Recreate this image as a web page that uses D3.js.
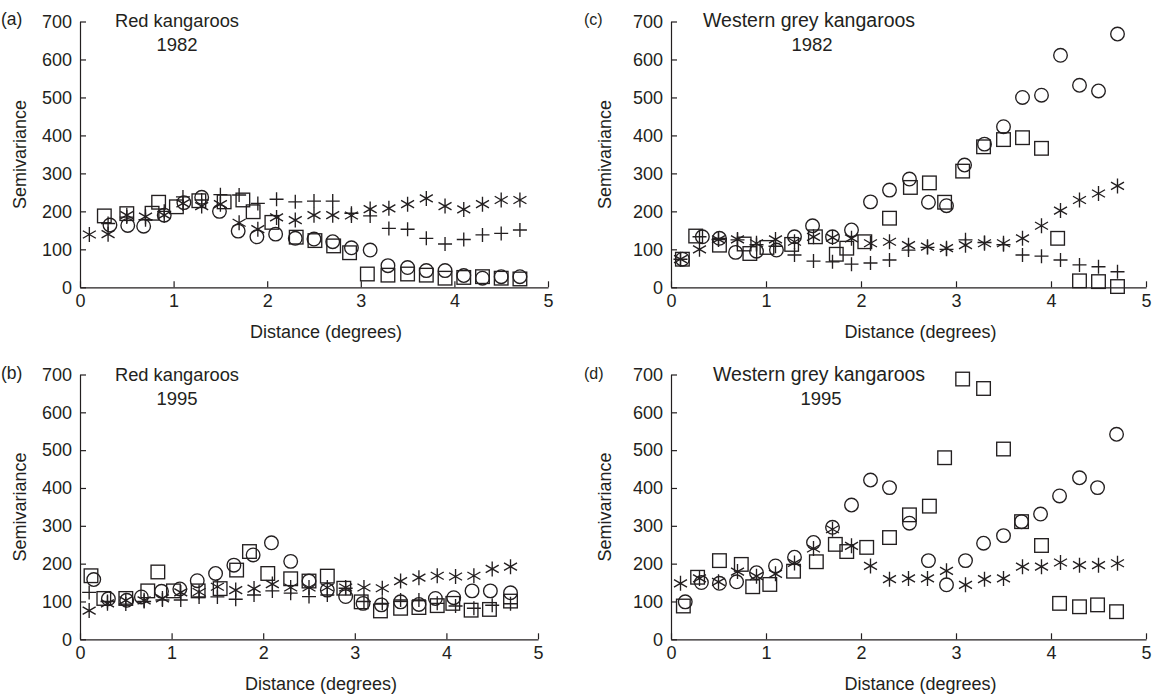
<!DOCTYPE html>
<html><head><meta charset="utf-8">
<script src="https://cdn.jsdelivr.net/npm/d3@7"></script>
<style>
html,body{margin:0;padding:0;background:#fff;}
svg{display:block;font-family:"Liberation Sans",Arial,sans-serif;}
</style></head>
<body><svg id="c" width="1164" height="698"></svg>
<script>
// ---------- data ----------
const lags = [0.1,0.3,0.5,0.7,0.9,1.1,1.3,1.5,1.7,1.9,2.1,2.3,2.5,2.7,2.9,3.1,3.3,3.5,3.7,3.9,4.1,4.3,4.5,4.7];
const xTicks = [0,1,2,3,4,5];
const yTicks = [0,100,200,300,400,500,600,700];

// (a) Red kangaroos 1982
const circleDistA = [0.32,0.51,0.68,0.9,1.11,1.3,1.49,1.69,1.89,2.09,2.3,2.5,2.7,2.9,3.1,3.29,3.5,3.7,3.9,4.1,4.3,4.5,4.7];
const circleA = [164,163,161,190,223,237,200,148,133,140,129,127,120,104,98,57,52,44,44,31,24,28,28];
const squareDistA = [0.26,0.5,0.77,0.84,1.03,1.27,1.54,1.74,1.85,2.05,2.31,2.51,2.71,2.88,3.07,3.29,3.5,3.7,3.9,4.1,4.3,4.5,4.7];
const squareA = [188,194,195,224,212,228,225,230,199,171,132,123,109,91,35,32,35,32,24,26,28,24,22];
const asteriskA = [139,140,190,186,190,221,214,219,170,153,184,177,190,190,189,206,208,219,234,214,205,219,230,230];
const plusA = [null,168,185,178,200,238,230,244,243,221,232,225,227,227,195,188,155,153,129,114,126,138,142,151];

// (b) Red kangaroos 1995
const circleDistB = [0.15,0.31,0.51,0.67,0.89,1.09,1.28,1.48,1.68,1.89,2.09,2.3,2.5,2.7,2.9,3.09,3.29,3.5,3.7,3.88,4.08,4.28,4.48,4.7];
const circleB = [158,107,103,112,127,133,155,174,196,223,255,206,154,130,113,95,91,99,92,108,110,128,128,123];
const squareDistB = [0.12,0.26,0.5,0.74,0.85,1.02,1.29,1.53,1.71,1.85,2.05,2.3,2.5,2.7,2.88,3.07,3.28,3.5,3.7,3.9,4.07,4.27,4.47,4.7];
const squareB = [168,108,108,128,178,128,128,134,183,232,174,160,154,167,135,99,75,82,84,89,95,77,79,101];
const asteriskB = [76,95,103,103,108,124,125,139,130,134,146,137,137,137,137,137,135,154,163,168,166,168,186,192];
const plusB = [124,100,93,100,104,104,112,112,106,117,128,122,113,117,135,100,95,104,104,95,88,82,90,94];

// (c) Western grey kangaroos 1982
const circleDistC = [0.12,0.33,0.51,0.68,0.9,1.11,1.3,1.49,1.7,1.9,2.1,2.3,2.51,2.71,2.9,3.09,3.3,3.5,3.7,3.9,4.1,4.3,4.5,4.7];
const circleC = [74,133,129,92,95,98,133,162,133,151,225,256,285,224,215,322,377,423,500,506,611,532,517,667];
const squareDistC = [0.12,0.26,0.51,0.77,0.83,1.01,1.27,1.52,1.74,1.85,2.04,2.3,2.52,2.72,2.88,3.07,3.29,3.5,3.7,3.9,4.07,4.3,4.5,4.7];
const squareC = [74,135,111,114,89,105,113,133,87,103,120,182,263,275,224,306,370,389,394,366,129,17,15,2];
const asteriskC = [74,100,126,126,116,126,120,133,131,129,116,120,111,107,103,111,116,116,129,162,202,230,247,267];
const plusC = [74,133,126,125,112,108,85,69,67,61,64,72,98,105,100,125,118,112,85,82,72,59,54,41];

// (d) Western grey kangaroos 1995
const circleDistD = [0.15,0.32,0.51,0.69,0.9,1.1,1.3,1.5,1.7,1.9,2.1,2.3,2.51,2.71,2.9,3.1,3.29,3.5,3.69,3.89,4.09,4.3,4.49,4.69];
const circleD = [99,150,148,152,176,194,217,256,296,355,421,401,307,208,144,208,254,274,311,331,379,427,401,542];
const squareDistD = [0.13,0.28,0.51,0.74,0.86,1.04,1.29,1.53,1.73,1.85,2.06,2.3,2.51,2.72,2.88,3.07,3.29,3.5,3.69,3.9,4.09,4.3,4.49,4.69];
const squareD = [88,164,208,198,139,145,180,205,251,232,243,269,329,352,480,688,663,503,311,248,95,86,91,73];
const asteriskD = [148,161,152,179,167,173,202,240,291,247,194,159,161,161,181,144,159,161,192,192,203,196,196,201];

// ---------- drawing ----------
const ink = "#231f20";
const svg = d3.select("#c");

const panels = [
  {tag:"(a)", tagX:1, tagSize:17.5, title:"Red kangaroos", titleSize:18.3, year:"1982", x0:80, x1:548, y0:287.3, y1:21.5,
   titleX:115, yearX:177, titleY:27, semX:26,
   circle:[circleDistA,circleA], square:[squareDistA,squareA], asterisk:[lags,asteriskA], plus:[lags,plusA]},
  {tag:"(b)", tagX:1, tagSize:17.5, title:"Red kangaroos", titleSize:18.3, year:"1995", x0:80, x1:538, y0:639.3, y1:374.5,
   titleX:115, yearX:177, titleY:381, semX:26,
   circle:[circleDistB,circleB], square:[squareDistB,squareB], asterisk:[lags,asteriskB], plus:[lags,plusB]},
  {tag:"(c)", tagX:584, tagSize:16, title:"Western grey kangaroos", titleSize:19.5, year:"1982", x0:671, x1:1146, y0:287.3, y1:21.5,
   titleX:703, yearX:812, titleY:27, semX:611,
   circle:[circleDistC,circleC], square:[squareDistC,squareC], asterisk:[lags,asteriskC], plus:[lags,plusC]},
  {tag:"(d)", tagX:584, tagSize:16, title:"Western grey kangaroos", titleSize:19.5, year:"1995", x0:671, x1:1146, y0:639.3, y1:374.5,
   titleX:713, yearX:821, titleY:381, semX:611,
   circle:[circleDistD,circleD], square:[squareDistD,squareD], asterisk:[lags,asteriskD], plus:null}
];

function pts(pair){ return pair[0].map((d,i)=>({d, v:pair[1][i]})).filter(p=>p.v!=null); }

panels.forEach(p=>{
  const x = d3.scaleLinear().domain([0,5]).range([p.x0,p.x1]);
  const y = d3.scaleLinear().domain([0,700]).range([p.y0,p.y1]);
  const g = svg.append("g");

  const ax = g.append("g").attr("transform",`translate(0,${p.y0})`)
    .call(d3.axisBottom(x).tickValues(xTicks).tickFormat(d3.format("d")).tickSizeInner(-6).tickSizeOuter(0).tickPadding(7));
  const ay = g.append("g").attr("transform",`translate(${p.x0},0)`)
    .call(d3.axisLeft(y).tickValues(yTicks).tickFormat(d3.format("d")).tickSizeInner(-6).tickSizeOuter(0).tickPadding(8));
  [ax,ay].forEach(a=>{
    a.selectAll("path,line").attr("stroke",ink).attr("stroke-width",1.2);
    a.selectAll("text").attr("fill",ink).style("font-size","18px").style("font-family",'"Liberation Sans",Arial,sans-serif');
  });

  const txt = (s,xx,yy,size,anchor)=>g.append("text").attr("x",xx).attr("y",yy).attr("fill",ink)
      .attr("text-anchor",anchor||"start").style("font-size",size+"px").text(s);
  txt(p.tag, p.tagX, p.titleY-2, p.tagSize);
  txt(p.title, p.titleX, p.titleY, p.titleSize);
  txt(p.year, p.yearX, p.titleY+24, 18.5, "middle");
  txt("Distance (degrees)", (p.x0+p.x1)/2+12, p.y0+51, 18, "middle");
  g.append("text").attr("transform",`translate(${p.semX},${(p.y0+p.y1)/2}) rotate(-90)`)
    .attr("text-anchor","middle").attr("fill",ink).style("font-size","18px").text("Semivariance");

  const m = g.append("g").attr("fill","none").attr("stroke",ink).attr("stroke-width",1.35);
  // circles
  m.selectAll("circle.o").data(pts(p.circle)).join("circle")
    .attr("cx",d=>x(d.d)).attr("cy",d=>y(d.v)).attr("r",6.8);
  // squares
  const s = 6.8;
  m.selectAll("rect.sq").data(pts(p.square)).join("rect")
    .attr("x",d=>x(d.d)-s).attr("y",d=>y(d.v)-s).attr("width",2*s).attr("height",2*s);
  // asterisks (6 arms)
  const r = 7.5;
  m.selectAll("path.ast").data(pts(p.asterisk)).join("path")
    .attr("d",d=>{
      const cx=x(d.d), cy=y(d.v), a=r*Math.cos(Math.PI/6), b=r*Math.sin(Math.PI/6);
      return `M${cx},${cy-r}L${cx},${cy+r}M${cx-a},${cy-b}L${cx+a},${cy+b}M${cx-a},${cy+b}L${cx+a},${cy-b}`;
    });
  // pluses
  if(p.plus){
    const q = 7;
    m.selectAll("path.pl").data(pts(p.plus)).join("path")
      .attr("d",d=>{const cx=x(d.d), cy=y(d.v); return `M${cx-q},${cy}L${cx+q},${cy}M${cx},${cy-q}L${cx},${cy+q}`;});
  }
});
</script></body></html>
